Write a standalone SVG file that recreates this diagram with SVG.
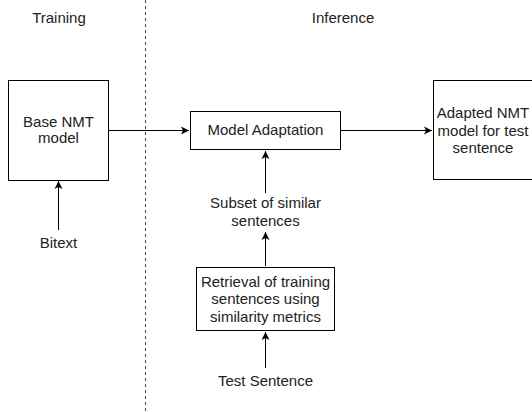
<svg xmlns="http://www.w3.org/2000/svg" width="532" height="412" viewBox="0 0 532 412">
<style>
.box{fill:#fff;stroke:#000;stroke-width:1}
.t{font-family:"Liberation Sans",Arial,sans-serif;font-size:15px;fill:#222;text-anchor:middle}
.c{stroke:#000;stroke-width:1;fill:none}
</style>
<defs>
<marker id="ah" markerWidth="9" markerHeight="9" refX="8" refY="4.5" orient="auto" markerUnits="userSpaceOnUse">
<path d="M0,0.5 L8,4.5 L0,8.5 L2,4.5 Z" fill="#000"/>
</marker>
</defs>
<rect width="532" height="412" fill="#fff"/>
<line x1="145.5" y1="0" x2="145.5" y2="412" stroke="#444" stroke-dasharray="3,3"/>
<text class="t" x="59" y="23">Training</text>
<text class="t" x="343" y="23">Inference</text>
<g id="connectors">
<line class="c" x1="108.5" y1="130.5" x2="189" y2="130.5" marker-end="url(#ah)"/>
<line class="c" x1="340.5" y1="130.5" x2="432" y2="130.5" marker-end="url(#ah)"/>
<line class="c" x1="58.5" y1="230" x2="58.5" y2="181" marker-end="url(#ah)"/>
<line class="c" x1="265.5" y1="193" x2="265.5" y2="151" marker-end="url(#ah)"/>
<line class="c" x1="265.5" y1="266" x2="265.5" y2="232" marker-end="url(#ah)"/>
<line class="c" x1="265.5" y1="368" x2="265.5" y2="332" marker-end="url(#ah)"/>
</g>
<g id="base-nmt">
<rect class="box" x="8.5" y="80.5" width="100" height="100"/>
<text class="t" x="58.5" y="127">Base NMT</text>
<text class="t" x="58.5" y="143">model</text>
</g>
<g id="bitext">
<text class="t" x="58.5" y="248">Bitext</text>
</g>
<g id="model-adaptation">
<rect class="box" x="190.5" y="111.5" width="150" height="38"/>
<text class="t" x="265.5" y="135">Model Adaptation</text>
</g>
<g id="adapted-nmt">
<rect class="box" x="433.5" y="80.5" width="100" height="99"/>
<text class="t" x="483" y="118">Adapted NMT</text>
<text class="t" x="483" y="136">model for test</text>
<text class="t" x="483" y="153">sentence</text>
</g>
<g id="subset">
<text class="t" x="265.5" y="208">Subset of similar</text>
<text class="t" x="265.5" y="226">sentences</text>
</g>
<g id="retrieval">
<rect class="box" x="196.5" y="267.5" width="138" height="63"/>
<text class="t" x="265.5" y="287">Retrieval of training</text>
<text class="t" x="265.5" y="304">sentences using</text>
<text class="t" x="265.5" y="322">similarity metrics</text>
</g>
<g id="test-sentence">
<text class="t" x="265.5" y="386">Test Sentence</text>
</g>
</svg>
